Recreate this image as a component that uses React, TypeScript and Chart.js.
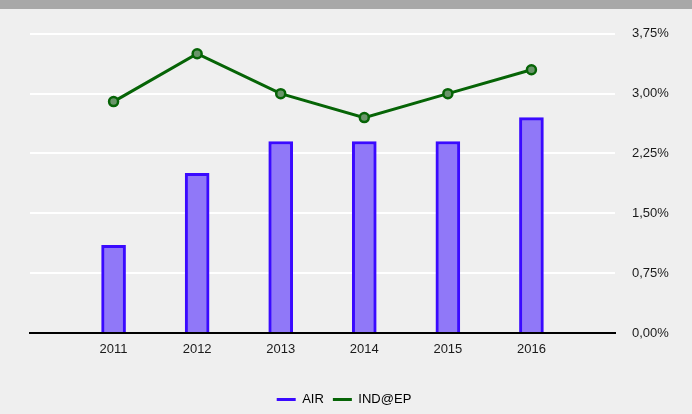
import React, { useEffect, useRef } from "react";
import { Chart, registerables } from "chart.js";

Chart.register(...registerables);

const categories = ["", "2011", "2012", "2013", "2014", "2015", "2016", ""];
const airValues = [null, 1.1, 2.0, 2.4, 2.4, 2.4, 2.7, null];
const indValues = [null, 2.9, 3.5, 3.0, 2.7, 3.0, 3.3, null];
const yTicks = [0, 0.75, 1.5, 2.25, 3.0, 3.75];

const fmt = (v: number) => v.toFixed(2).replace(".", ",") + "%";

const legendShift = {
  id: "legendShift",
  afterLayout(chart: any) {
    const lg = chart.legend;
    if (!lg) return;
    const dx = -17;
    const dy = 2;
    lg.left += dx;
    lg.right += dx;
    lg.top += dy;
    lg.bottom += dy;
  },
};

export default function App() {
  const ref = useRef<HTMLCanvasElement | null>(null);
  useEffect(() => {
    document.body.style.margin = "0";
    const ctx = ref.current!;
    const chart = new Chart(ctx, {
      type: "bar",
      data: {
        labels: categories,
        datasets: [
          {
            type: "line",
            label: "IND@EP",
            data: indValues as any,
            borderColor: "#066406",
            backgroundColor: "#5f8f5f",
            borderWidth: 3,
            pointRadius: 4.5,
            pointBorderWidth: 2.5,
            pointBackgroundColor: "#6a956a",
            pointBorderColor: "#066406",
            order: 0,
          } as any,
          {
            type: "bar",
            label: "AIR",
            data: airValues as any,
            backgroundColor: "#9078f8",
            borderColor: "#3a0aff",
            borderWidth: 3,
            barThickness: 24,
            order: 1,
          } as any,
        ],
      },
      plugins: [legendShift],
      options: {
        animation: false,
        responsive: false,
        maintainAspectRatio: false,
        layout: { padding: { left: 30, top: 10, right: 0, bottom: 0 } },
        plugins: {
          tooltip: { enabled: false },
          legend: {
            position: "bottom",
            reverse: true,
            labels: {
              boxWidth: 19,
              boxHeight: 3,
              padding: 9,
              color: "#1a1a1a",
              font: { family: "Liberation Sans, Arial", size: 13 },
              generateLabels: (c: any) =>
                c.data.datasets.map((ds: any, i: number) => ({
                  text: ds.label,
                  fillStyle: ds.borderColor,
                  strokeStyle: ds.borderColor,
                  lineWidth: 0,
                  datasetIndex: i,
                  hidden: false,
                })),
            },
          },
        },
        scales: {
          x: {
            offset: false,
            grid: { display: false },
            border: { display: true, color: "#000", width: 2 },
            ticks: {
              color: "#1a1a1a",
              font: { family: "Liberation Sans, Arial", size: 13 },
              padding: 1,
              autoSkip: false,
              maxRotation: 0,
            },
            afterFit: (s: any) => {
              s.height = 49;
            },
          },
          y: {
            position: "right",
            min: 0,
            max: 3.75,
            afterBuildTicks: (s: any) => {
              s.ticks = yTicks.map((v) => ({ value: v }));
            },
            grid: {
              color: "#ffffff",
              lineWidth: 2,
              drawTicks: false,
            },
            border: { display: false },
            ticks: {
              color: "#1a1a1a",
              font: { family: "Liberation Sans, Arial", size: 13 },
              padding: 17,
              callback: (v: any) => fmt(Number(v)),
            },
            afterFit: (s: any) => {
              s.width = 77;
            },
          },
        },
      },
    });
    return () => chart.destroy();
  }, []);
  return (
    <div style={{ position: "fixed", inset: 0, background: "#efefef" }}>
      <div style={{ height: 9, background: "#a8a8a8" }} />
      <canvas ref={ref} width={692} height={405} style={{ display: "block" }} />
    </div>
  );
}
